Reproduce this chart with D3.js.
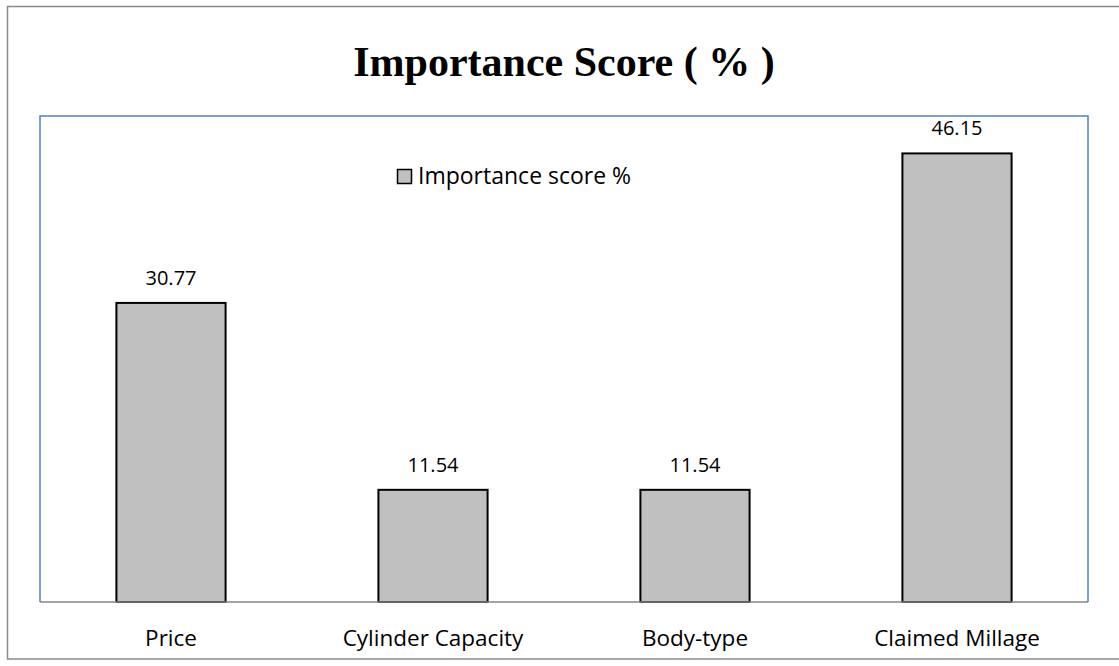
<!DOCTYPE html>
<html>
<head>
<meta charset="utf-8">
<script src="https://cdn.jsdelivr.net/npm/d3@7"></script>
<style>
  html, body { margin: 0; padding: 0; background: #fff; }
  svg { display: block; }
</style>
</head>
<body>
<svg id="chart" width="1119" height="666"></svg>
<script>
const categories = ["Price", "Cylinder Capacity", "Body-type", "Claimed Millage"];
const values = [30.77, 11.54, 11.54, 46.15];
const seriesName = "Importance score %";
const titleText = "Importance Score ( % )";
const yDomain = [0, 50];

const svg = d3.select("#chart");
const plot = { left: 40, top: 116, right: 1088, bottom: 602 };
const labelFont = "'Open Sans', 'Noto Sans', sans-serif";

// outer chart border
svg.append("rect")
  .attr("x", 7.5).attr("y", 6.5)
  .attr("width", 1125).attr("height", 652.5)
  .attr("fill", "#fff")
  .attr("stroke", "#8a8a8a").attr("stroke-width", 1.5);

// title
svg.append("text")
  .attr("x", (plot.left + plot.right) / 2).attr("y", 76)
  .attr("text-anchor", "middle")
  .attr("font-family", "'Liberation Serif', 'Times New Roman', serif")
  .attr("font-weight", "bold")
  .attr("font-size", 42)
  .attr("fill", "#000")
  .text(titleText);

const x = d3.scaleBand()
  .domain(categories)
  .range([plot.left, plot.right])
  .paddingInner(1.4 / 2.4)
  .paddingOuter(0.7 / 2.4);

const y = d3.scaleLinear().domain(yDomain).range([plot.bottom, plot.top]);

// plot area border (blue)
svg.append("path")
  .attr("d", `M${plot.left},${plot.bottom} V${plot.top} H${plot.right} V${plot.bottom}`)
  .attr("fill", "none")
  .attr("stroke", "#4f81bd").attr("stroke-width", 1.5);

// bars
svg.append("g").selectAll("rect")
  .data(values)
  .join("rect")
  .attr("x", (d, i) => x(categories[i]))
  .attr("y", d => y(d))
  .attr("width", x.bandwidth())
  .attr("height", d => y(0) - y(d))
  .attr("fill", "#c0c0c0")
  .attr("stroke", "#000").attr("stroke-width", 2);

// category axis
const xAxis = svg.append("g")
  .attr("transform", `translate(0,${plot.bottom})`)
  .call(d3.axisBottom(x).tickSize(0).tickPadding(0));
xAxis.select(".domain").attr("stroke", "#868686").attr("stroke-width", 1.5)
  .attr("d", `M${plot.left},0H${plot.right}`);
xAxis.selectAll(".tick text")
  .attr("y", 44).attr("dy", null)
  .attr("font-family", labelFont)
  .attr("font-size", 22.5)
  .attr("fill", "#000");

// value labels
svg.append("g").selectAll("text")
  .data(values)
  .join("text")
  .attr("x", (d, i) => x(categories[i]) + x.bandwidth() / 2)
  .attr("y", d => y(d) - 18)
  .attr("text-anchor", "middle")
  .attr("font-family", labelFont)
  .attr("font-size", 20)
  .attr("fill", "#000")
  .text(d => d.toFixed(2));

// legend
const lg = svg.append("g").attr("transform", "translate(397,169)");
lg.append("rect")
  .attr("x", 0.5).attr("y", 0.5).attr("width", 14).attr("height", 14)
  .attr("fill", "#c0c0c0").attr("stroke", "#000").attr("stroke-width", 1.5);
lg.append("text")
  .attr("x", 21).attr("y", 14.5)
  .attr("font-family", labelFont)
  .attr("font-size", 23)
  .attr("fill", "#000")
  .text(seriesName);
</script>
</body>
</html>
